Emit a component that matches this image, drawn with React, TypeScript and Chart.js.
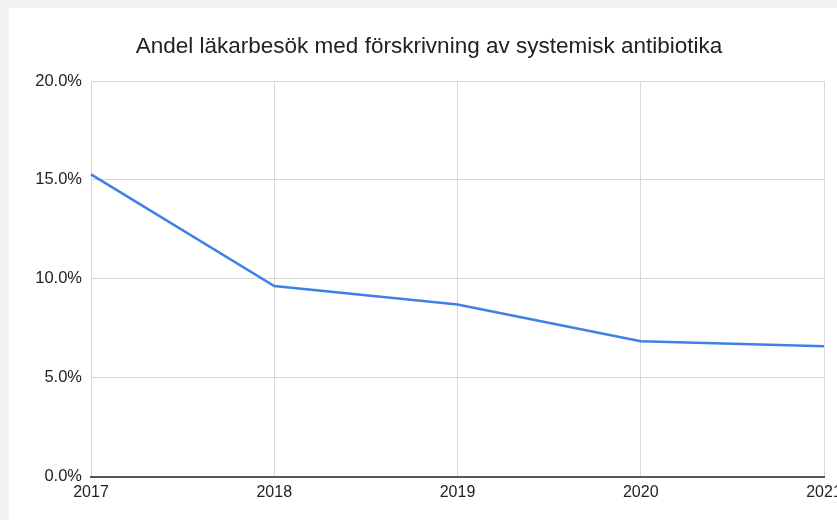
import React, { useEffect, useRef } from "react";
import { Chart, registerables } from "chart.js";

Chart.register(...registerables);

const years: string[] = ["2017", "2018", "2019", "2020", "2021"];
const shareWithPrescription: number[] = [15.28, 9.64, 8.71, 6.85, 6.6];
const yTicks: number[] = [0, 5, 10, 15, 20];
const chartTitle = "Andel läkarbesök med förskrivning av systemisk antibiotika";

const CANVAS_W = 860;
const CANVAS_H = 520;

export default function App() {
  const canvasRef = useRef<HTMLCanvasElement | null>(null);

  useEffect(() => {
    const canvas = canvasRef.current;
    if (!canvas) return;
    const font = "Arial, 'Liberation Sans', sans-serif";

    const chart = new Chart(canvas, {
      type: "line",
      data: {
        labels: years,
        datasets: [
          {
            data: shareWithPrescription,
            borderColor: "#3f80e6",
            borderWidth: 2.5,
            pointRadius: 0,
            tension: 0,
            fill: false,
          },
        ],
      },
      options: {
        responsive: false,
        animation: false,
        devicePixelRatio: 1,
        layout: { padding: { top: 0, right: 36, bottom: 12, left: 34 } },
        plugins: {
          legend: { display: false },
          tooltip: { enabled: false },
          title: {
            display: true,
            text: chartTitle,
            color: "#222",
            font: { family: font, size: 22.5, weight: "normal" },
            padding: { top: 33, bottom: 21 },
          },
        },
        scales: {
          x: {
            type: "category",
            offset: false,
            grid: { color: "#d8d8d8", lineWidth: 1, drawTicks: false },
            border: { display: true, color: "#555", width: 2 },
            ticks: {
              color: "#222",
              font: { family: font, size: 16 },
              padding: 6,
              maxRotation: 0,
              autoSkip: false,
            },
          },
          y: {
            min: 0,
            max: 20,
            afterBuildTicks: (scale: any) => {
              scale.ticks = yTicks.map((v) => ({ value: v }));
            },
            afterFit: (scale: any) => {
              scale.width = 57;
            },
            grid: { color: "#d8d8d8", lineWidth: 1, drawTicks: false },
            border: { display: false },
            ticks: {
              color: "#222",
              font: { family: font, size: 16.5 },
              padding: 9,
              callback: (v: any) => Number(v).toFixed(1) + "%",
            },
          },
        },
      },
    });
    return () => chart.destroy();
  }, []);

  return (
    <div
      style={{
        position: "fixed",
        left: 0,
        top: 0,
        width: 837,
        height: 520,
        overflow: "hidden",
        background: "#f1f2f4",
      }}
    >
      <div
        style={{
          position: "absolute",
          left: 9,
          top: 8,
          width: 900,
          height: 600,
          background: "#ffffff",
        }}
      />
      <canvas
        ref={canvasRef}
        width={CANVAS_W}
        height={CANVAS_H}
        style={{ position: "absolute", left: 0, top: 0, width: CANVAS_W, height: CANVAS_H }}
      />
    </div>
  );
}
